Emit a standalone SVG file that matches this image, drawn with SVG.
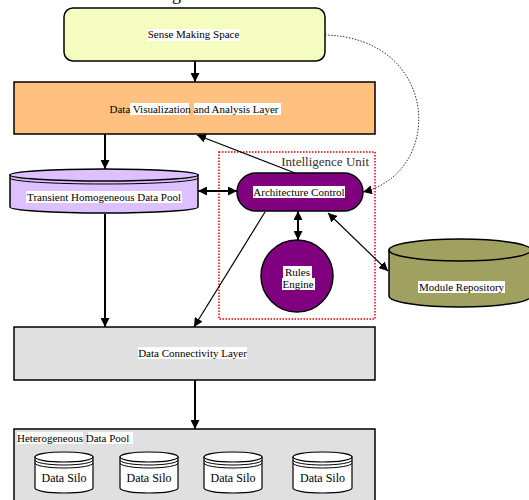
<svg xmlns="http://www.w3.org/2000/svg" width="529" height="500" viewBox="0 0 529 500">
<style>
text{font-family:"Liberation Serif","Times New Roman",serif;font-size:11px;fill:#000}
.lbl{fill:#fff}
.sh{stroke:#000;stroke-width:1.5}
.thick{stroke:#000;stroke-width:2;fill:none}
.thin{stroke:#000;stroke-width:1.2;fill:none}
.silo{fill:#fff;stroke:#000;stroke-width:1.2}
.arc{fill:none;stroke:#000;stroke-width:1}
</style>
<defs>
<marker id="ah" viewBox="0 0 10 10" refX="10" refY="5" markerWidth="9" markerHeight="9" markerUnits="userSpaceOnUse" orient="auto-start-reverse">
<path d="M0,0 L10,5 L0,10 z" fill="#000"/>
</marker>
</defs>
<rect width="529" height="500" fill="#fff"/>
<text x="172" y="0" style="font-size:18px">g</text>

<g id="intelligence-unit">
<rect x="219" y="152" width="156" height="167" fill="none" stroke="#e00000" stroke-width="1.5" stroke-dasharray="1.5 1.5"/>
<text x="369" y="166" text-anchor="end" style="font-size:13px;fill:#333">Intelligence Unit</text>
</g>

<g id="sense-making">
<rect class="sh" x="64" y="8" width="261" height="53" rx="9" fill="#f4fcc0"/>
<rect class="lbl" x="147" y="29" width="93" height="12"/>
<text x="193.5" y="38" text-anchor="middle">Sense Making Space</text>
</g>

<g id="data-vis">
<rect class="sh" x="14" y="82" width="361" height="52" fill="#ffc080"/>
<rect class="lbl" x="130" y="103" width="59" height="12"/>
<rect class="lbl" x="194" y="103" width="87" height="12"/>
<text x="194" y="113" text-anchor="middle">Data Visualization  and Analysis Layer</text>
</g>

<g id="transient-pool">
<path class="sh" d="M10,175 V207 A94,6 0 0 0 198,207 V175 Z" fill="#dcc0ff"/>
<ellipse class="sh" cx="104" cy="175" rx="94" ry="6" fill="#dcc0ff"/>
<path class="arc" d="M10,178 A94,6 0 0 0 198,178"/>
<rect class="lbl" x="26" y="191" width="156" height="12"/>
<text x="104" y="201" text-anchor="middle">Transient Homogeneous Data Pool</text>
</g>

<g id="architecture-control">
<rect class="sh" x="237" y="173" width="126" height="38" rx="19" fill="#800080"/>
<rect class="lbl" x="253" y="186" width="92" height="12"/>
<text x="299" y="196" text-anchor="middle">Architecture Control</text>
</g>

<g id="rules-engine">
<circle class="sh" cx="297" cy="276" r="36" fill="#800080"/>
<rect class="lbl" x="283" y="266" width="29" height="12"/>
<rect class="lbl" x="282" y="278" width="33" height="12"/>
<text x="297.5" y="276" text-anchor="middle">Rules</text>
<text x="298" y="288" text-anchor="middle">Engine</text>
</g>

<g id="module-repository">
<path class="sh" d="M389,250 V296 A71,11 0 0 0 531,296 V250 Z" fill="#a0a060"/>
<ellipse class="sh" cx="460" cy="250" rx="71" ry="11" fill="#a0a060"/>
<rect class="lbl" x="418" y="281" width="87" height="12"/>
<text x="461.5" y="291" text-anchor="middle">Module Repository</text>
</g>

<g id="data-connectivity">
<rect class="sh" x="14" y="327" width="361" height="53" fill="#e0e0e0"/>
<rect class="lbl" x="138" y="347" width="109" height="12"/>
<text x="192.5" y="357" text-anchor="middle">Data Connectivity Layer</text>
</g>

<g id="heterogeneous-pool">
<rect class="sh" x="14" y="429" width="361" height="80" fill="#e0e0e0"/>
<rect class="lbl" x="17" y="432" width="66" height="12"/>
<rect class="lbl" x="88" y="432" width="45" height="12"/>
<text x="17" y="442">Heterogeneous  Data Pool</text>
</g>

<g id="silo-1">
<path class="silo" d="M35,457 V488 A29,5 0 0 0 93,488 V457 Z"/>
<ellipse class="silo" cx="64" cy="457" rx="29" ry="5"/>
<path class="arc" d="M35,460 A29,5 0 0 0 93,460 M35,463 A29,5 0 0 0 93,463"/>
<text x="64" y="482" text-anchor="middle" style="font-size:12px">Data Silo</text>
</g>
<g id="silo-2">
<path class="silo" d="M120,457 V488 A29,5 0 0 0 178,488 V457 Z"/>
<ellipse class="silo" cx="149" cy="457" rx="29" ry="5"/>
<path class="arc" d="M120,460 A29,5 0 0 0 178,460 M120,463 A29,5 0 0 0 178,463"/>
<text x="149" y="482" text-anchor="middle" style="font-size:12px">Data Silo</text>
</g>
<g id="silo-3">
<path class="silo" d="M204,457 V488 A29,5 0 0 0 262,488 V457 Z"/>
<ellipse class="silo" cx="233" cy="457" rx="29" ry="5"/>
<path class="arc" d="M204,460 A29,5 0 0 0 262,460 M204,463 A29,5 0 0 0 262,463"/>
<text x="233" y="482" text-anchor="middle" style="font-size:12px">Data Silo</text>
</g>
<g id="silo-4">
<path class="silo" d="M293,457 V488 A29.5,5 0 0 0 352,488 V457 Z"/>
<ellipse class="silo" cx="322.5" cy="457" rx="29.5" ry="5"/>
<path class="arc" d="M293,460 A29.5,5 0 0 0 352,460 M293,463 A29.5,5 0 0 0 352,463"/>
<text x="322.5" y="482" text-anchor="middle" style="font-size:12px">Data Silo</text>
</g>

<g id="connectors">
<line class="thick" x1="195" y1="61" x2="195" y2="82" marker-end="url(#ah)"/>
<line class="thick" x1="105" y1="134" x2="105" y2="169" marker-end="url(#ah)"/>
<line class="thick" x1="105" y1="214" x2="105" y2="327" marker-end="url(#ah)"/>
<line class="thick" x1="195" y1="380" x2="195" y2="429" marker-end="url(#ah)"/>
<line class="thick" x1="198" y1="191" x2="237" y2="191" marker-start="url(#ah)" marker-end="url(#ah)"/>
<line class="thick" x1="298" y1="211" x2="298" y2="240" marker-start="url(#ah)" marker-end="url(#ah)"/>
<line class="thin" x1="295" y1="173" x2="197" y2="135" marker-end="url(#ah)"/>
<line class="thin" x1="265" y1="212" x2="194" y2="327" marker-end="url(#ah)"/>
<line class="thin" x1="328" y1="213" x2="388" y2="271" marker-start="url(#ah)" marker-end="url(#ah)"/>
<path d="M325,35 C440,38 445,172 363,192" fill="none" stroke="#333" stroke-width="1" stroke-dasharray="1.5 1.5" marker-end="url(#ah)"/>
</g>
</svg>
